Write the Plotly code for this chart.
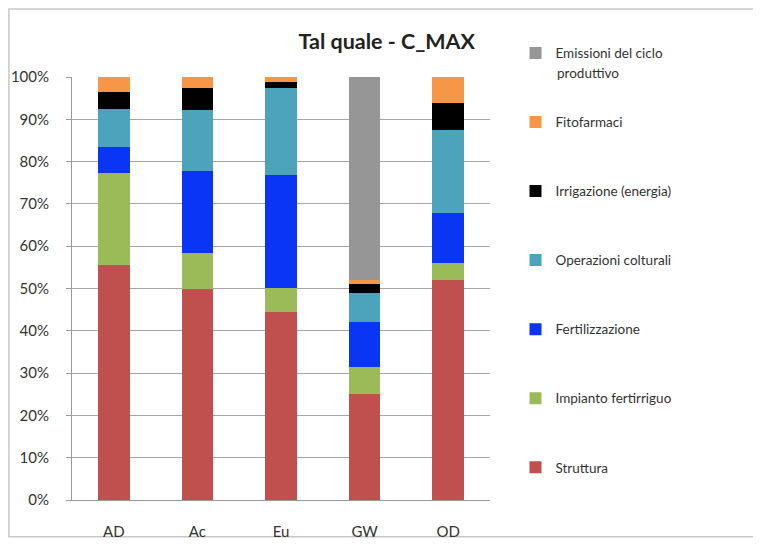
import plotly.graph_objects as go

# categories and series values (% of total)
categories = ['AD', 'Ac', 'Eu', 'GW', 'OD']

struttura = [55.5, 50.0, 44.4, 25.0, 52.0]
impianto = [21.8, 8.5, 5.7, 6.5, 4.0]
fertilizzazione = [6.1, 19.2, 26.7, 10.6, 11.8]
operazioni = [9.0, 14.6, 20.5, 6.8, 19.7]
irrigazione = [4.1, 5.0, 1.6, 2.2, 6.3]
fitofarmaci = [3.5, 2.7, 1.1, 1.0, 6.2]
emissioni = [0.0, 0.0, 0.0, 47.9, 0.0]

tick_vals = [0, 10, 20, 30, 40, 50, 60, 70, 80, 90, 100]
tick_text = ['0%', '10%', '20%', '30%', '40%', '50%', '60%', '70%', '80%', '90%', '100%']

series = [
    ('Struttura', struttura, '#C0504D'),
    ('Impianto fertirriguo', impianto, '#9BBB59'),
    ('Fertilizzazione', fertilizzazione, '#0A35F5'),
    ('Operazioni colturali', operazioni, '#4BA3BC'),
    ('Irrigazione (energia)', irrigazione, '#000000'),
    ('Fitofarmaci', fitofarmaci, '#F79646'),
    ('Emissioni del ciclo', emissioni, '#969696'),
]

font_family = 'Lato'

fig = go.Figure()
for i, (name, values, color) in enumerate(series):
    fig.add_trace(
        go.Bar(
            x=categories, y=values,
            name=name,
            legendgroup='g%d' % i,
            legendrank=len(series) - i,
            marker=dict(color=color, line=dict(width=0)),
            width=0.38,
        )
    )

# second line of the long legend label, kept tight like the original
fig.add_annotation(
    text='produttivo', xref='paper', yref='paper',
    x=1.156, y=1.009, xanchor='left', yanchor='middle',
    showarrow=False, font=dict(family=font_family, size=13.5, color='#333333'),
)

# page body adds 8px, so the figure is a bit smaller than the window
fig.update_layout(
    width=753,
    height=538,
    barmode='stack',
    paper_bgcolor='white',
    plot_bgcolor='white',
    margin=dict(l=64, r=271, t=69, b=46, autoexpand=False),
    font=dict(family=font_family, size=13, color='#333333'),
    title=dict(
        text='<b>Tal quale - C_MAX</b>',
        x=0.964, xanchor='right', xref='paper',
        y=0.937, yanchor='middle',
        font=dict(family=font_family, size=21.5, color='#222222'),
    ),
    legend=dict(
        x=1.061, xanchor='left',
        y=1.093, yanchor='top',
        traceorder='grouped',
        tracegroupgap=48.5,
        maxheight=600,
        font=dict(family=font_family, size=13.5, color='#333333'),
        itemwidth=30,
        bgcolor='rgba(0,0,0,0)',
    ),
    shapes=[
        dict(type='rect', xref='paper', yref='paper',
             x0=-0.151, x1=1.645, y0=-0.087, y1=1.161,
             line=dict(color='#C8C8C8', width=1.5), fillcolor='rgba(0,0,0,0)', layer='below'),
    ],
)

fig.update_xaxes(
    showline=True, linecolor='#9A9A9A', linewidth=1,
    tickfont=dict(family=font_family, size=15, color='#333333'),
    ticks='', showgrid=False, automargin=False,
    ticklabelstandoff=18,
)
fig.update_yaxes(
    range=[0, 100],
    tickvals=tick_vals, ticktext=tick_text,
    showgrid=True, gridcolor='#A6A6A6', gridwidth=1,
    showline=True, linecolor='#9A9A9A', linewidth=1,
    ticks='outside', ticklen=5, tickcolor='#9A9A9A',
    tickfont=dict(family=font_family, size=15, color='#333333'),
    zeroline=False, automargin=False,
    ticklabelstandoff=14,
)

fig.write_html('out.html')
